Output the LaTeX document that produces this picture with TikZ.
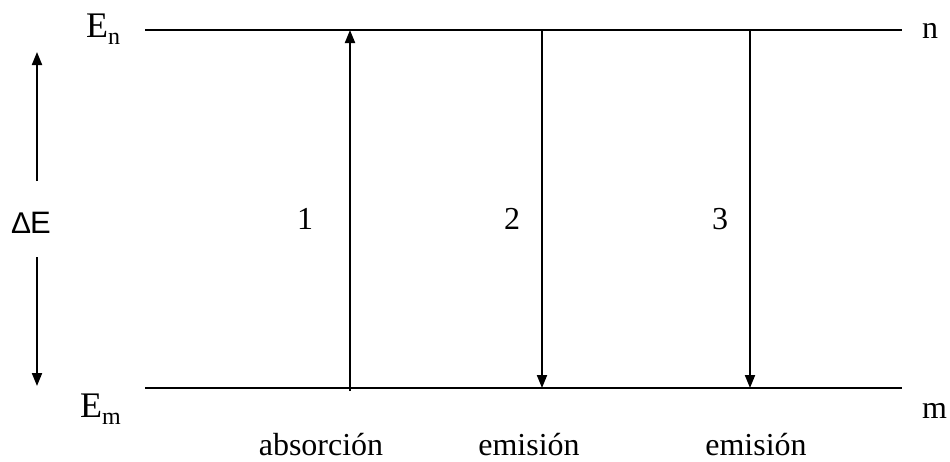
\documentclass[tikz,border=0pt]{standalone}
\usepackage{fontspec}
\setmainfont{Liberation Serif}
\newfontfamily\arialfont{Liberation Sans}
\usetikzlibrary{arrows.meta}
\begin{document}
\begin{tikzpicture}[x=1pt,y=-1pt,
  level/.style={line width=2.8pt},
  trans/.style={line width=2pt,-{Triangle[width=10pt,length=13pt]}},
  lbl/.style={inner sep=0pt,font=\fontsize{32}{38}\selectfont},
  elbl/.style={inner sep=0pt,font=\fontsize{36}{40}\selectfont}]
\useasboundingbox (0,0) rectangle (950,461);
% levels
\coordinate (nL) at (145,30);
\coordinate (nR) at (902,30);
\coordinate (mL) at (145,388);
\coordinate (mR) at (902,388);
\draw[level] (nL) -- (nR);
\draw[level] (mL) -- (mR);
% transitions
\coordinate (a1b) at (350,391);
\coordinate (a1t) at (350,30);
\coordinate (a2t) at (542,30);
\coordinate (a2b) at (542,388);
\coordinate (a3t) at (750,30);
\coordinate (a3b) at (750,388);
\draw[trans] (a1b) -- (a1t);
\draw[trans] (a2t) -- (a2b);
\draw[trans] (a3t) -- (a3b);
% Delta E arrows
\coordinate (dUb) at (37,181);
\coordinate (dUt) at (37,52);
\coordinate (dLt) at (37,257);
\coordinate (dLb) at (37,386);
\draw[trans] (dUb) -- (dUt);
\draw[trans] (dLt) -- (dLb);
\node[inner sep=0pt,anchor=base west,font=\arialfont\fontsize{31}{36}\selectfont] (dE) at (11,233) {{\fontsize{30}{34}\selectfont Δ}\kern-1pt E};
% level labels
\node[elbl,anchor=base west] (En) at (86,37) {E\raisebox{-0.2em}{\fontsize{24}{24}\selectfont n}};
\node[elbl,anchor=base west] (Em) at (80,417) {E\raisebox{-0.2em}{\fontsize{24}{24}\selectfont m}};
\node[lbl,anchor=base west] (n) at (922,38) {n};
\node[lbl,anchor=base west] (m) at (922,418) {m};
% numbers
\node[lbl,anchor=base] (t1) at (305,229) {1};
\node[lbl,anchor=base] (t2) at (512,229) {2};
\node[lbl,anchor=base] (t3) at (720,229) {3};
% captions
\node[lbl,anchor=base] (c1) at (321,455) {absorción};
\node[lbl,anchor=base] (c2) at (529,455) {emisión};
\node[lbl,anchor=base] (c3) at (756,455) {emisión};
\end{tikzpicture}
\end{document}
